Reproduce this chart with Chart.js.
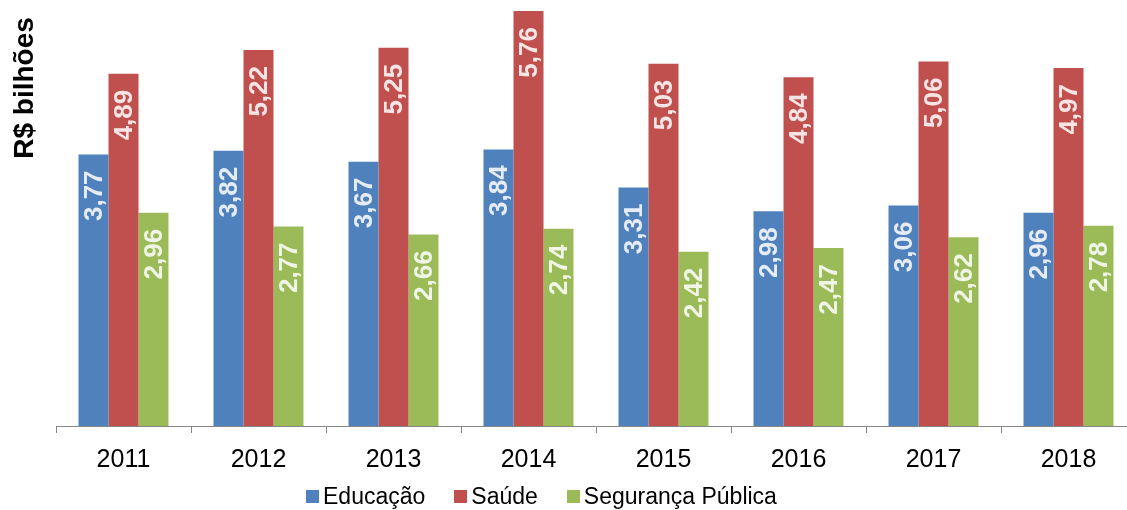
<!DOCTYPE html>
<html>
<head>
<meta charset="utf-8">
<script src="https://cdn.jsdelivr.net/npm/chart.js@4.4.0/dist/chart.umd.min.js"></script>
<style>
  html, body { margin: 0; padding: 0; background: #fff; overflow: hidden; }
  #wrap { position: relative; width: 1127px; height: 510px; overflow: hidden; }
  #chart { position: absolute; left: 0; top: 0; }
  #legend { position: absolute; left: 306px; top: 483px; display: flex; font: 23px "Liberation Sans", Arial, sans-serif; color: #000; white-space: nowrap; }
  #legend .item { display: flex; align-items: center; margin-right: 29px; }
  #legend .box { width: 13px; height: 13px; margin-right: 4px; }
</style>
</head>
<body>
<div id="wrap">
  <canvas id="chart" width="1140" height="510"></canvas>
  <div id="legend"></div>
</div>
<script>
// data
const years = ['2011', '2012', '2013', '2014', '2015', '2016', '2017', '2018'];
const seriesNames = ['Educação', 'Saúde', 'Segurança Pública'];
const educacao = [3.77, 3.82, 3.67, 3.84, 3.31, 2.98, 3.06, 2.96];
const saude = [4.89, 5.22, 5.25, 5.76, 5.03, 4.84, 5.06, 4.97];
const seguranca = [2.96, 2.77, 2.66, 2.74, 2.42, 2.47, 2.62, 2.78];
const colors = ['#4F81BD', '#C0504D', '#9BBB59'];
const yTitle = 'R$ bilhões';

const font = '"Liberation Sans", Arial, sans-serif';

// value labels, rotated, inside the top of each bar
const barLabels = {
    id: 'barLabels',
    afterDatasetsDraw(chart) {
        const ctx = chart.ctx;
        ctx.save();
        ctx.font = 'bold 26px ' + font;
        ctx.fillStyle = 'rgba(255,255,255,0.85)';
        ctx.textAlign = 'right';
        ctx.textBaseline = 'middle';
        chart.data.datasets.forEach((ds, i) => {
            chart.getDatasetMeta(i).data.forEach((bar, j) => {
                ctx.save();
                ctx.translate(bar.x + 1, bar.y + 16);
                ctx.rotate(-Math.PI / 2);
                ctx.fillText(ds.data[j].toFixed(2).replace('.', ','), 0, 0);
                ctx.restore();
            });
        });
        ctx.restore();
    }
};

// y axis title, placed near the top like the original
const axisTitle = {
    id: 'axisTitle',
    afterDraw(chart) {
        const ctx = chart.ctx;
        ctx.save();
        ctx.font = 'bold 28px ' + font;
        ctx.fillStyle = '#000';
        ctx.textAlign = 'center';
        ctx.textBaseline = 'middle';
        ctx.translate(25, 88);
        ctx.rotate(-Math.PI / 2);
        ctx.fillText(yTitle, 0, 0);
        ctx.restore();
    }
};

const allSeries = [educacao, saude, seguranca];

new Chart(document.getElementById('chart'), {
    type: 'bar',
    data: {
        labels: years,
        datasets: allSeries.map((vals, i) => ({
            label: seriesNames[i],
            data: vals,
            backgroundColor: colors[i],
            borderWidth: 0,
            categoryPercentage: 90 / 135,
            barPercentage: 1
        }))
    },
    options: {
        responsive: false,
        animation: false,
        devicePixelRatio: 1,
        layout: { padding: { left: 56, right: 4, top: 1, bottom: 23 } },
        plugins: {
            legend: { display: false },
            tooltip: { enabled: false }
        },
        scales: {
            x: {
                grid: { display: true, drawOnChartArea: false, drawTicks: true, tickLength: 7, color: '#868686', offset: true },
                border: { display: true, color: '#868686', width: 1 },
                ticks: { color: '#000', font: { family: font, size: 25 }, padding: 12 }
            },
            y: {
                display: false,
                min: 0,
                max: 5.9
            }
        }
    },
    plugins: [barLabels, axisTitle]
});

// legend in HTML
const legend = document.getElementById('legend');
seriesNames.forEach((name, i) => {
    const item = document.createElement('div');
    item.className = 'item';
    item.innerHTML = `<span class="box" style="background:${colors[i]}"></span><span>${name}</span>`;
    legend.appendChild(item);
});
</script>
</body>
</html>
